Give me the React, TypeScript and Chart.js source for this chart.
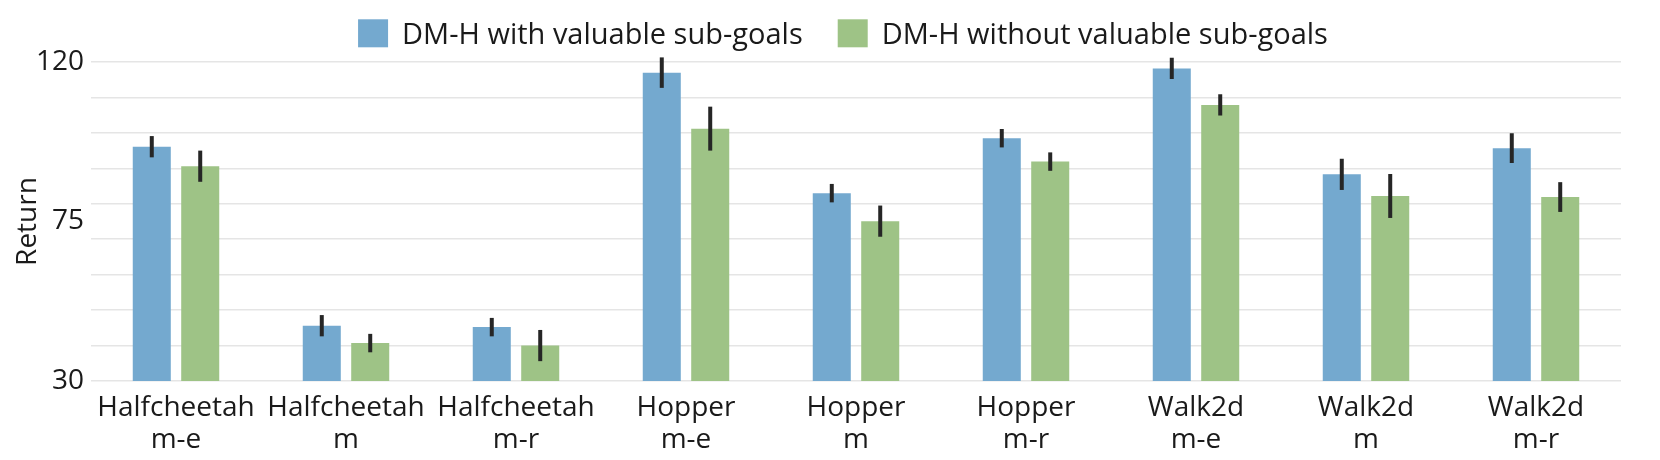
import React, { useEffect, useRef } from "react";
import { Chart, registerables } from "chart.js";

Chart.register(...registerables);

// ---- data ----
const categories: string[][] = [
  ["Halfcheetah", "m-e"],
  ["Halfcheetah", "m"],
  ["Halfcheetah", "m-r"],
  ["Hopper", "m-e"],
  ["Hopper", "m"],
  ["Hopper", "m-r"],
  ["Walk2d", "m-e"],
  ["Walk2d", "m"],
  ["Walk2d", "m-r"],
];
const seriesLabels = ["DM-H with valuable sub-goals", "DM-H without valuable sub-goals"];
const withValues = [96.1, 45.6, 45.2, 117.0, 83.0, 98.5, 118.2, 88.3, 95.7];
const withErrors = [3.0, 3.0, 2.6, 4.3, 2.6, 2.6, 3.0, 4.4, 4.2];
const withoutValues = [90.6, 40.7, 40.0, 101.2, 75.1, 91.9, 107.9, 82.2, 81.9];
const withoutErrors = [4.4, 2.6, 4.4, 6.2, 4.4, 2.6, 3.0, 6.2, 4.2];
const yTickLabels = [30, 75, 120];
const yMin = 30;
const yMax = 120;
const gridStep = 10;

// ---- style ----
const FONT = "'Open Sans', 'Noto Sans', sans-serif";
const TEXT_COLOR = "#1a1a1a";
const BLUE = "#74a9cf";
const GREEN = "#9ec386";
const ERR_COLOR = "#262626";
const GRID_COLOR = "#e5e5e5";
const LEGEND_FONT_SIZE = 29;
const LEGEND_CENTER = 843;
const LEGEND_BASELINE = 43.5;

const errorBarPlugin = {
  id: "errorBars",
  afterDatasetsDraw(chart: any) {
    const { ctx } = chart;
    const yScale = chart.scales.y;
    chart.data.datasets.forEach((ds: any, di: number) => {
      const meta = chart.getDatasetMeta(di);
      meta.data.forEach((bar: any, i: number) => {
        const v = ds.data[i];
        const e = ds.errors[i];
        ctx.save();
        ctx.strokeStyle = ERR_COLOR;
        ctx.lineWidth = 4;
        ctx.lineCap = "butt";
        ctx.beginPath();
        ctx.moveTo(bar.x, yScale.getPixelForValue(v - e));
        ctx.lineTo(bar.x, yScale.getPixelForValue(v + e));
        ctx.stroke();
        ctx.restore();
      });
    });
  },
};

const legendPlugin = {
  id: "topLegend",
  afterDraw(chart: any) {
    const { ctx } = chart;
    ctx.save();
    ctx.font = `${LEGEND_FONT_SIZE}px ${FONT}`;
    const boxW = 30;
    const boxH = 28;
    const textGap = 14;
    const itemGap = 35;
    const items = chart.data.datasets.map((ds: any) => ({
      label: ds.label as string,
      color: ds.backgroundColor as string,
      w: ctx.measureText(ds.label).width as number,
    }));
    const total =
      items.reduce((s: number, it: any) => s + boxW + textGap + it.w, 0) +
      itemGap * (items.length - 1);
    let x = LEGEND_CENTER - total / 2;
    items.forEach((it: any) => {
      ctx.fillStyle = it.color;
      ctx.fillRect(x, LEGEND_BASELINE - 24.2, boxW, boxH);
      ctx.fillStyle = TEXT_COLOR;
      ctx.textBaseline = "alphabetic";
      ctx.textAlign = "left";
      ctx.fillText(it.label, x + boxW + textGap, LEGEND_BASELINE);
      x += boxW + textGap + it.w + itemGap;
    });
    ctx.restore();
  },
};

export default function App() {
  const canvasRef = useRef<HTMLCanvasElement | null>(null);

  useEffect(() => {
    if (!canvasRef.current) return;
    const chart = new Chart(canvasRef.current, {
      type: "bar",
      data: {
        labels: categories,
        datasets: [
          {
            label: seriesLabels[0],
            data: withValues,
            errors: withErrors,
            backgroundColor: BLUE,
            borderWidth: 0,
            categoryPercentage: 0.57,
            barPercentage: 0.785,
          } as any,
          {
            label: seriesLabels[1],
            data: withoutValues,
            errors: withoutErrors,
            backgroundColor: GREEN,
            borderWidth: 0,
            categoryPercentage: 0.57,
            barPercentage: 0.785,
          } as any,
        ],
      },
      options: {
        animation: false,
        responsive: true,
        maintainAspectRatio: false,
        layout: { padding: { left: 0, right: 39, top: 62, bottom: 0 } },
        plugins: {
          legend: { display: false },
          tooltip: { enabled: false },
        },
        scales: {
          x: {
            type: "category",
            offset: true,
            grid: { display: false },
            border: { display: false },
            ticks: {
              autoSkip: false,
              maxRotation: 0,
              minRotation: 0,
              color: TEXT_COLOR,
              padding: 3,
              font: { family: FONT, size: 28, lineHeight: 1.15 },
            },
            afterFit: (scale: any) => {
              scale.height = 79;
            },
          },
          y: {
            min: yMin,
            max: yMax,
            border: { display: false },
            grid: {
              drawTicks: false,
              lineWidth: 1.5,
              color: (c: any) =>
                c.tick && (c.tick.value - yMin) % gridStep === 0 ? GRID_COLOR : "rgba(0,0,0,0)",
            },
            ticks: {
              stepSize: 5,
              autoSkip: false,
              padding: 7,
              color: TEXT_COLOR,
              font: { family: FONT, size: 28 },
              callback: (v: any) => (yTickLabels.includes(Number(v)) ? String(v) : ""),
            },
            title: {
              display: true,
              text: "Return",
              color: TEXT_COLOR,
              font: { family: FONT, size: 28 },
              padding: { top: 11, bottom: 0 },
            },
            afterFit: (scale: any) => {
              scale.width = 91;
            },
          },
        },
      },
      plugins: [errorBarPlugin, legendPlugin],
    });
    return () => chart.destroy();
  }, []);

  return (
    <div style={{ position: "absolute", left: 0, top: 0, width: 1660, height: 460, background: "#fff" }}>
      <canvas ref={canvasRef} />
    </div>
  );
}
